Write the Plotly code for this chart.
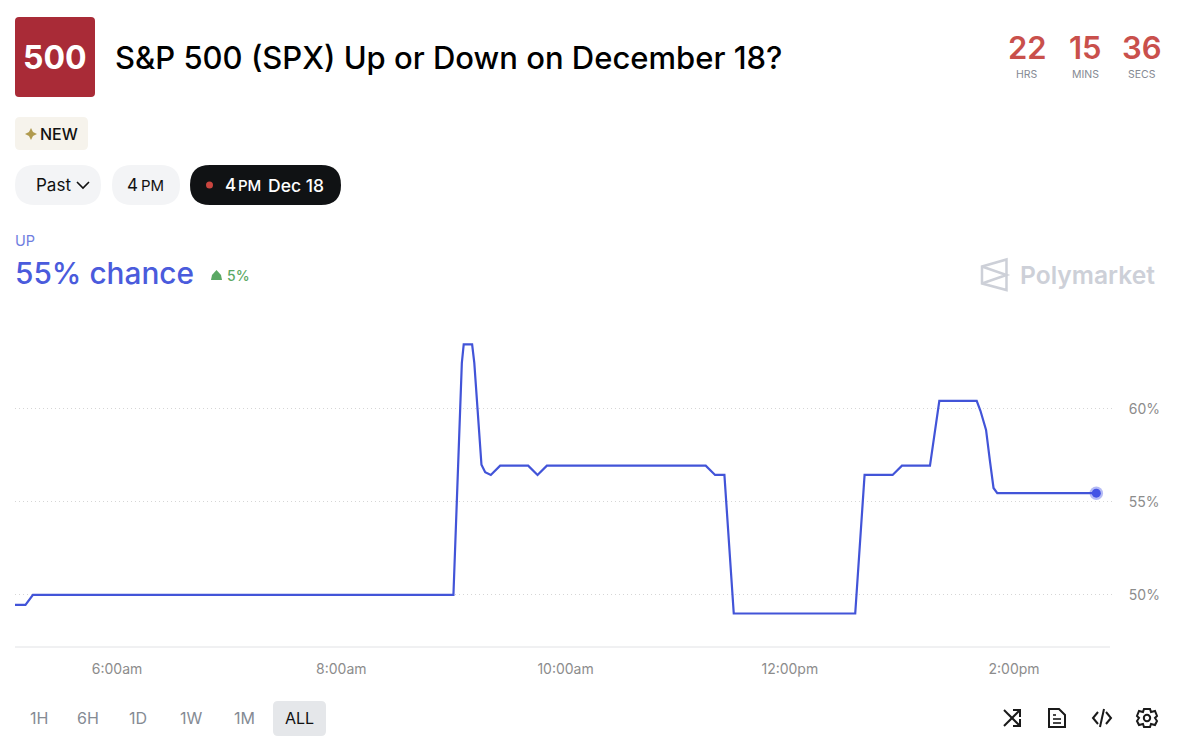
import plotly.graph_objects as go

# chance history (Dec 17, US time)
times = ["05:05", "05:11", "05:15", "09:00", "09:04:30", "09:05:30", "09:10", "09:11:10", "09:15", "09:17", "09:20", "09:25",
         "09:40", "09:45", "09:50", "11:15", "11:20", "11:25", "11:30", "12:35", "12:40",
         "12:55", "13:00", "13:15", "13:20", "13:40", "13:42", "13:45", "13:47", "13:49", "13:51", "14:44"]
chance = [49.46, 49.46, 50.0, 50.0, 62.47, 63.47, 63.47, 62.47, 57.0, 56.6, 56.45, 56.95,
          56.95, 56.45, 56.95, 56.95, 56.45, 56.45, 49.0, 49.0, 56.45,
          56.45, 56.95, 56.95, 60.43, 60.43, 59.9, 58.87, 57.26, 55.75, 55.47, 55.47]
dates = ["2024-12-17 " + t for t in times]

x_ticks = ["2024-12-17 06:00", "2024-12-17 08:00", "2024-12-17 10:00", "2024-12-17 12:00", "2024-12-17 14:00"]
x_labels = ["6:00am", "8:00am", "10:00am", "12:00pm", "2:00pm"]
y_ticks = [50, 55, 60]
y_labels = ["50%", "55%", "60%"]

ranges = ["1H", "6H", "1D", "1W", "1M", "ALL"]
range_centers = [38.5, 88, 138, 191, 245, 299.5]

W, H = 1179, 756
LEFT, RIGHT, TOP, BOTTOM = 15, 1115, 320, 647
FONT = "Inter"
BLUE = "#4254d8"


def px(x):
    return (x - LEFT) / (RIGHT - LEFT)


def py(y):
    return (BOTTOM - y) / (BOTTOM - TOP)


def path(points, close=False):
    s = "M" + " L".join("%.5f,%.5f" % (px(x), py(y)) for x, y in points)
    return s + (" Z" if close else "")


def round_rect(x0, y0, x1, y1, r):
    p = lambda x, y: "%.5f,%.5f" % (px(x), py(y))
    return ("M" + p(x0 + r, y0) + " L" + p(x1 - r, y0) + " Q" + p(x1, y0) + " " + p(x1, y0 + r)
            + " L" + p(x1, y1 - r) + " Q" + p(x1, y1) + " " + p(x1 - r, y1)
            + " L" + p(x0 + r, y1) + " Q" + p(x0, y1) + " " + p(x0, y1 - r)
            + " L" + p(x0, y0 + r) + " Q" + p(x0, y0) + " " + p(x0 + r, y0) + " Z")


shapes = []
annotations = []


def box(x0, y0, x1, y1, r, color):
    shapes.append(dict(type="path", xref="paper", yref="paper", path=round_rect(x0, y0, x1, y1, r),
                       fillcolor=color, line=dict(width=0), layer="below"))


def stroke(points, color="#1a1a1a", width=2, close=False, fill=None):
    shapes.append(dict(type="path", xref="paper", yref="paper", path=path(points, close),
                       line=dict(color=color, width=width), fillcolor=fill))


def dot(cx, cy, r, color=None, line=None, width=0):
    shapes.append(dict(type="circle", xref="paper", yref="paper",
                       x0=px(cx - r), x1=px(cx + r), y0=py(cy + r), y1=py(cy - r),
                       fillcolor=color, line=dict(color=line, width=width)))


def text(x, y, s, size, color="#111111", anchor="left", weight=400):
    annotations.append(dict(x=px(x), y=py(y), xref="paper", yref="paper", text=s, showarrow=False,
                            xanchor=anchor, yanchor="middle", align=anchor, borderpad=0, borderwidth=0,
                            font=dict(family=FONT, size=size, color=color, weight=weight)))


# header
box(15, 17, 95, 97, 4, "#a92b37")
text(55, 57, "500", 32, "#ffffff", "center", 700)
text(114.5, 57, "S&amp;P 500 (SPX) Up or Down on December 18?", 31, "#000000", "left", 500)

for cx, num, unit in zip([1027, 1085, 1142], ["22", "15", "36"], ["HRS", "MINS", "SECS"]):
    text(cx, 47.5, num, 31, "#c9504c", "center", 600)
    text(cx, 74, unit, 10.5, "#858a93", "center")

# badges and pills
box(15, 117, 88, 150, 5, "#f6f3ec")
stroke([(31, 128), (33, 132), (37, 134), (33, 136), (31, 140), (29, 136), (25, 134), (29, 132)],
       "#b09a4e", 0, True, "#b09a4e")
text(39.5, 134, "NEW", 16, "#111111", "left", 500)

box(15, 165, 101, 205, 20, "#f3f4f6")
text(35.5, 185, "Past", 17, "#111111")
stroke([(77, 182), (83, 188), (89, 182)], "#111111", 1.6)

box(112, 165, 180, 205, 20, "#f3f4f6")
text(127, 185, "4", 17, "#111111")
text(140.5, 185, "PM", 15, "#111111")

box(190, 165, 341, 205, 20, "#101214")
dot(209.5, 185, 3.5, "#c9453f")
text(224.5, 185, "4", 17, "#ffffff", "left", 500)
text(238, 185, "PM", 15, "#ffffff", "left", 500)
text(268, 185, "Dec 18", 17.5, "#ffffff", "left", 500)

# current value
text(14.5, 240, "UP", 14.5, "#6f7ee0")
text(14.5, 273, "55% chance", 29.8, "#4a5bdc", "left", 500)
stroke([(211, 280), (222, 280), (221, 275), (216.5, 270), (212, 275)], "#5aa864", 0, True, "#5aa864")
text(226.5, 275, "5%", 14, "#5aa864", "left", 500)

# watermark
stroke([(982, 266.5), (1006.5, 259.5), (1006.5, 290), (982, 283.5)], "#cdd0d8", 2.5, True)
stroke([(982, 266.5), (1006.5, 275), (982, 283.5)], "#cdd0d8", 2.5)
text(1020, 275, "Polymarket", 24.6, "#cdd0d8", "left", 600)

# x axis line stops short of the grid
stroke([(15, 647), (1110, 647)], "#e1e2e5", 1)

# range buttons
box(273, 701, 326, 736, 5, "#e5e7ea")
for cx, label in zip(range_centers, ranges):
    text(cx, 718, label, 16, "#111111" if label == "ALL" else "#858b94", "center")

# shuffle icon
stroke([(1004, 710), (1020, 726)])
stroke([(1004, 726), (1020, 710)])
stroke([(1013, 710), (1020, 710), (1020, 717)])
stroke([(1013, 726), (1020, 726), (1020, 719)])

# doc icon
stroke([(1049, 709), (1059, 709), (1065, 715), (1065, 727), (1049, 727)], close=True)
for y, x1 in [(715, 1056), (719, 1061), (723, 1061)]:
    stroke([(1053, y), (x1, y)], width=1.6)

# embed icon
stroke([(1098, 712), (1093, 718), (1098, 724)])
stroke([(1106, 712), (1111, 718), (1106, 724)])
stroke([(1104, 709), (1100, 727)])

# settings icon
stroke([(1144, 709), (1150, 709), (1151, 712), (1155, 711), (1157, 716), (1155, 718), (1157, 721),
        (1155, 725), (1151, 724), (1150, 727), (1144, 727), (1143, 724), (1139, 725), (1137, 721),
        (1139, 718), (1137, 716), (1139, 711), (1143, 712)], close=True)
dot(1147, 718, 3.2, None, "#1a1a1a", 2)

fig = go.Figure()
fig.add_trace(go.Scatter(x=dates, y=chance, mode="lines", line=dict(color=BLUE, width=2.2),
                         hoverinfo="skip", showlegend=False))
fig.add_trace(go.Scatter(x=dates[-1:], y=chance[-1:], mode="markers",
                         marker=dict(size=13.5, color="rgba(67,83,229,0.4)", line=dict(width=0)),
                         hoverinfo="skip", showlegend=False, cliponaxis=False))
fig.add_trace(go.Scatter(x=dates[-1:], y=chance[-1:], mode="markers",
                         marker=dict(size=9, color="#4353e5", line=dict(width=0)),
                         hoverinfo="skip", showlegend=False, cliponaxis=False))

fig.update_layout(
    width=W, height=H, autosize=False,
    margin=dict(l=LEFT, r=W - RIGHT, t=TOP, b=H - BOTTOM, pad=0),
    paper_bgcolor="#ffffff", plot_bgcolor="#ffffff",
    shapes=shapes, annotations=annotations,
    font=dict(family=FONT),
)
fig.update_xaxes(range=["2024-12-17 05:05:24", "2024-12-17 14:54:00"], tickmode="array", tickvals=x_ticks,
                 ticktext=x_labels, showgrid=False, showline=False, zeroline=False, ticks="outside",
                 ticklen=9, tickcolor="rgba(0,0,0,0)", tickfont=dict(family=FONT, size=14, color="#8c8c8c"))
fig.update_yaxes(range=[47.2, 64.78], side="right", tickmode="array", tickvals=y_ticks, ticktext=y_labels,
                 gridcolor="#d6d6d6", griddash="1px,3px", gridwidth=1, zeroline=False, showline=False,
                 ticks="outside", ticklen=10, tickcolor="rgba(0,0,0,0)",
                 tickfont=dict(family=FONT, size=14, color="#8c8c8c"))

fig.write_html("out.html", config=dict(displayModeBar=False),
               post_script="document.body.style.margin='0';document.body.style.overflow='hidden';")
